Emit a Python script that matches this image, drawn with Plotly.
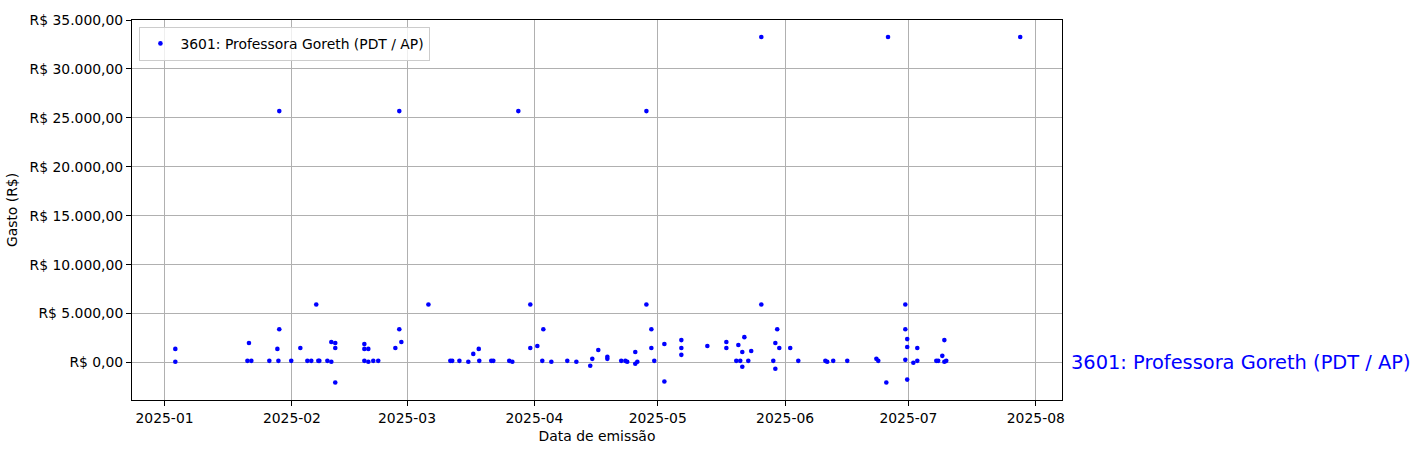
import plotly.graph_objects as go

series_name = "3601: Professora Goreth (PDT / AP)"

dates = [
    "2025-01-03 15:00", "2025-01-03 15:00", "2025-01-21 04:00", "2025-01-21 13:00",
    "2025-01-22 03:00", "2025-01-26 12:00", "2025-01-28 11:00", "2025-01-28 17:00",
    "2025-01-28 22:00", "2025-01-28 22:00", "2025-01-31 20:00", "2025-02-03 01:00",
    "2025-02-04 18:00", "2025-02-05 17:00", "2025-02-06 22:00", "2025-02-07 10:00",
    "2025-02-07 16:00", "2025-02-09 15:00", "2025-02-10 14:00", "2025-02-10 14:00",
    "2025-02-11 13:00", "2025-02-11 13:00", "2025-02-11 13:00", "2025-02-18 15:00",
    "2025-02-18 15:00", "2025-02-18 15:00", "2025-02-19 14:00", "2025-02-19 14:00",
    "2025-02-20 19:00", "2025-02-22 00:00", "2025-02-26 04:00", "2025-02-27 03:00",
    "2025-02-27 03:00", "2025-02-27 15:00", "2025-03-06 05:00", "2025-03-11 13:00",
    "2025-03-12 00:00", "2025-03-13 18:00", "2025-03-15 22:00", "2025-03-17 03:00",
    "2025-03-18 11:00", "2025-03-18 14:00", "2025-03-21 12:00", "2025-03-22 00:00",
    "2025-03-25 21:00", "2025-03-26 15:00", "2025-03-28 02:00", "2025-03-31 00:00",
    "2025-03-31 00:00", "2025-04-01 17:00", "2025-04-02 22:00", "2025-04-03 04:00",
    "2025-04-05 03:00", "2025-04-09 00:00", "2025-04-11 05:00", "2025-04-14 14:00",
    "2025-04-15 02:00", "2025-04-16 13:00", "2025-04-18 18:00", "2025-04-18 18:00",
    "2025-04-22 03:00", "2025-04-23 03:00", "2025-04-23 14:00", "2025-04-25 13:00",
    "2025-04-25 13:00", "2025-04-26 01:00", "2025-04-28 06:00", "2025-04-28 06:00",
    "2025-04-29 11:00", "2025-04-29 11:00", "2025-04-30 04:00", "2025-05-02 15:00",
    "2025-05-02 15:00", "2025-05-06 18:00", "2025-05-06 18:00", "2025-05-06 18:00",
    "2025-05-13 02:00", "2025-05-17 17:00", "2025-05-17 17:00", "2025-05-20 03:00",
    "2025-05-20 15:00", "2025-05-21 02:00", "2025-05-21 14:00", "2025-05-21 14:00",
    "2025-05-22 02:00", "2025-05-23 01:00", "2025-05-23 18:00", "2025-05-26 05:00",
    "2025-05-26 05:00", "2025-05-29 03:00", "2025-05-29 15:00", "2025-05-29 15:00",
    "2025-05-30 02:00", "2025-05-30 14:00", "2025-06-02 06:00", "2025-06-04 05:00",
    "2025-06-10 19:00", "2025-06-11 06:00", "2025-06-12 17:00", "2025-06-16 03:00",
    "2025-06-23 05:00", "2025-06-23 16:00", "2025-06-25 15:00", "2025-06-26 01:00",
    "2025-06-30 06:00", "2025-06-30 06:00", "2025-06-30 06:00", "2025-06-30 17:00",
    "2025-06-30 17:00", "2025-06-30 17:00", "2025-07-02 05:00", "2025-07-03 04:00",
    "2025-07-03 04:00", "2025-07-07 19:00", "2025-07-08 06:00", "2025-07-09 06:00",
    "2025-07-09 18:00", "2025-07-09 18:00", "2025-07-10 05:00", "2025-07-28 05:00",
]

gastos = [
    1390, 70, 170, 1990,
    170, 170, 1390, 170,
    3400, 25690, 170, 1480,
    170, 170, 5920, 170,
    170, 170, 70, 2090,
    1990, 1480, -2050, 1890,
    1390, 170, 1390, 70,
    170, 170, 1480, 3400,
    25690, 2090, 5920, 170,
    170, 170, 70, 880,
    1390, 170, 170, 170,
    170, 70, 25690, 1480,
    5920, 1680, 170, 3400,
    70, 170, 70, -330,
    370, 1280, 580, 370,
    170, 170, 70, 1080,
    -130, 70, 5920, 25690,
    3400, 1480, 170, 1890,
    -1950, 2290, 1480, 780,
    1680, 2090, 1480, 170,
    1790, 170, 1080, -430,
    2590, 170, 1180, 33260,
    5920, 170, 1990, -640,
    3400, 1480, 1480, 170,
    170, 70, 170, 170,
    370, 170, -2050, 33260,
    5920, 3400, 270, 2390,
    1580, -1750, -30, 1480,
    170, 170, 170, 680,
    2290, 70, 170, 33260,
]

y_tick_vals = [0, 5000, 10000, 15000, 20000, 25000, 30000, 35000]
y_tick_text = ["R$ 0,00", "R$ 5.000,00", "R$ 10.000,00", "R$ 15.000,00",
               "R$ 20.000,00", "R$ 25.000,00", "R$ 30.000,00", "R$ 35.000,00"]
x_tick_vals = ["2025-01-01", "2025-02-01", "2025-03-01", "2025-04-01",
               "2025-05-01", "2025-06-01", "2025-07-01", "2025-08-01"]
x_tick_text = ["2025-01", "2025-02", "2025-03", "2025-04",
               "2025-05", "2025-06", "2025-07", "2025-08"]

FONT = "DejaVu Sans"
FS = 13.9

fig = go.Figure()
fig.add_trace(go.Scatter(
    x=dates, y=gastos, mode="markers", name=series_name,
    marker=dict(color="blue", size=4.6, line=dict(width=0)),
))

fig.add_annotation(
    text=series_name, xref="paper", yref="y", x=1.0075, y=0,
    xanchor="left", yanchor="middle", showarrow=False,
    font=dict(family=FONT, size=19.4, color="blue"),
)

axis_common = dict(
    showline=True, linecolor="black", linewidth=1, mirror=True,
    showgrid=True, gridcolor="#b0b0b0", gridwidth=1,
    ticks="outside", ticklen=5, tickwidth=1, tickcolor="black",
    zeroline=False, tickfont=dict(family=FONT, size=FS, color="black"),
)

fig.update_layout(
    width=1421, height=453,
    margin=dict(l=132, r=359, t=15, b=53),
    paper_bgcolor="white", plot_bgcolor="white",
    font=dict(family=FONT, size=FS, color="black"),
    showlegend=True,
    legend=dict(
        x=0.008, y=0.982, xanchor="left", yanchor="top",
        bgcolor="rgba(255,255,255,0.8)", bordercolor="#cccccc", borderwidth=1,
        font=dict(family=FONT, size=FS, color="black"),
    ),
    xaxis=dict(
        **axis_common,
        range=["2024-12-24 02:00", "2025-08-07 09:00"],
        tickvals=x_tick_vals, ticktext=x_tick_text,
        title=dict(text="Data de emissão", font=dict(family=FONT, size=FS), standoff=6),
    ),
    yaxis=dict(
        **axis_common,
        range=[-3833, 35001],
        tickvals=y_tick_vals, ticktext=y_tick_text,
        title=dict(text="Gasto (R$)", font=dict(family=FONT, size=FS), standoff=8),
    ),
)

fig.write_html(
    "out.html",
    config={"displayModeBar": False},
    post_script="document.body.style.margin='0';document.body.style.overflow='hidden';",
)
